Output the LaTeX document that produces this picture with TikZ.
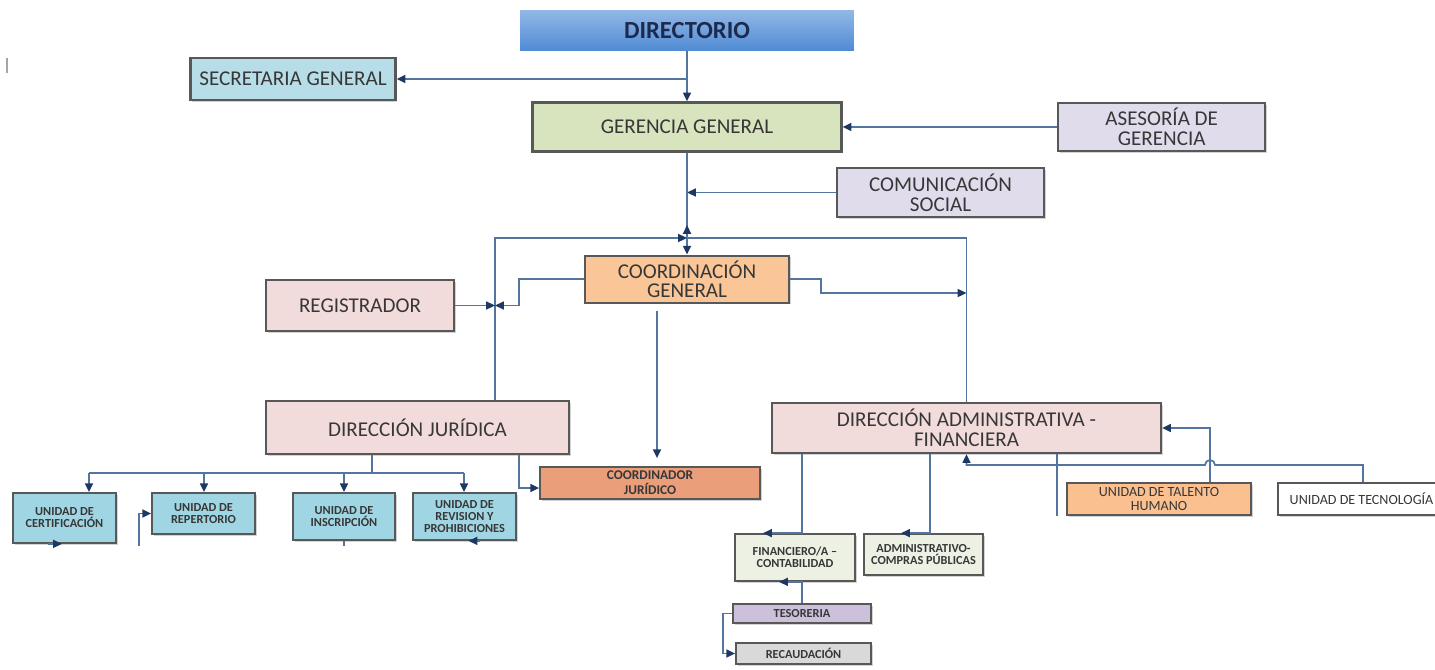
\documentclass[tikz,border=0pt]{standalone}
\usepackage{fontspec}
\setmainfont{Carlito}
\usepackage{tikz}
\usetikzlibrary{arrows.meta, positioning, shadows}

\definecolor{dirtop}{RGB}{146,184,230}
\definecolor{dirbot}{RGB}{80,138,212}
\definecolor{dirtext}{RGB}{28,42,78}
\definecolor{secblue}{RGB}{183,221,232}
\definecolor{gergreen}{RGB}{215,228,189}
\definecolor{lavender}{RGB}{224,220,236}
\definecolor{peach}{RGB}{250,198,152}
\definecolor{pinkbox}{RGB}{242,220,219}
\definecolor{salmon}{RGB}{234,158,122}
\definecolor{unitcyan}{RGB}{160,214,227}
\definecolor{palegreen}{RGB}{236,241,228}
\definecolor{lilac}{RGB}{204,192,218}
\definecolor{lightgray}{RGB}{217,217,217}
\definecolor{talorange}{RGB}{250,192,144}
\definecolor{boxgray}{RGB}{88,88,88}
\definecolor{txtgray}{RGB}{55,55,55}
\definecolor{linkblue}{RGB}{84,117,160}
\definecolor{tipblue}{RGB}{30,56,100}

\tikzset{
    block/.style={rectangle, draw=boxgray, line width=1.3pt, align=center, inner sep=1pt, text=txtgray, font=\fontsize{12}{11.3}\selectfont, drop shadow={shadow xshift=1pt, shadow yshift=-1pt, opacity=0.35}},
    unit/.style={block, line width=1pt, font=\fontsize{7}{6.8}\selectfont\bfseries},
    link/.style={draw=linkblue, line width=1pt},
    arrow/.style={link, -{Triangle[length=5pt, width=4.5pt, color=tipblue]}}
}

\begin{document}
\begin{tikzpicture}[x=0.02cm, y=-0.02cm]
    \useasboundingbox (0,0) rectangle (1435,669);
    \clip (0,0) rectangle (1435,669);

    % Nodes
    \node (directorio) [minimum width=6.68cm, minimum height=0.82cm, top color=dirtop, bottom color=dirbot, text=dirtext, font=\fontsize{14}{14}\selectfont\bfseries] at (687,30.5) {DIRECTORIO};
    \node (gerencia) [block, below=1.0cm of directorio, minimum width=6.18cm, minimum height=0.98cm, fill=gergreen] {GERENCIA GENERAL};
    \node (asesoria) [block, right=4.29cm of gerencia, minimum width=4.14cm, minimum height=0.96cm, fill=lavender] {ASESORÍA DE\\GERENCIA};
    \node (secretaria) [block, minimum width=4.1cm, minimum height=0.84cm, fill=secblue] at (293,79) {SECRETARIA GENERAL};
    \node (comunicacion) [block, minimum width=4.14cm, minimum height=0.98cm, fill=lavender] at (940.5,192.5) {COMUNICACIÓN\\SOCIAL};
    \node (coordinacion) [block, below=2.04cm of gerencia, minimum width=4.08cm, minimum height=0.94cm, fill=peach] {COORDINACIÓN\\GENERAL};
    \node (registrador) [block, minimum width=3.76cm, minimum height=1.02cm, fill=pinkbox] at (360,305.5) {REGISTRADOR};
    \node (juridica) [block, minimum width=6.06cm, minimum height=1.06cm, fill=pinkbox] at (417.5,427.5) {DIRECCIÓN JURÍDICA};
    \node (administrativa) [block, minimum width=7.78cm, minimum height=1.0cm, fill=pinkbox] at (966.5,428) {DIRECCIÓN ADMINISTRATIVA -\\FINANCIERA};
    \node (coordinador) [unit, minimum width=4.4cm, minimum height=0.64cm, fill=salmon, font=\fontsize{7.6}{8.5}\selectfont\bfseries] at (650,483) {COORDINADOR\\JURÍDICO};

    \node (certificacion) [unit, minimum width=2.06cm, minimum height=1.0cm, fill=unitcyan] at (64.5,518) {UNIDAD DE\\CERTIFICACIÓN};
    \node (repertorio) [unit, minimum width=2.06cm, minimum height=0.82cm, fill=unitcyan] at (203.5,513.5) {UNIDAD DE\\REPERTORIO};
    \node (inscripcion) [unit, minimum width=2.04cm, minimum height=0.94cm, fill=unitcyan] at (344,516.5) {UNIDAD DE\\INSCRIPCIÓN};
    \node (revision) [unit, minimum width=2.06cm, minimum height=0.94cm, fill=unitcyan] at (464.5,516.5) {UNIDAD DE\\REVISION Y\\PROHIBICIONES};

    \node (financiero) [unit, minimum width=2.4cm, minimum height=0.94cm, fill=palegreen] at (795,557.5) {FINANCIERO/A –\\CONTABILIDAD};
    \node (compras) [unit, minimum width=2.38cm, minimum height=0.82cm, fill=palegreen] at (923.5,554.5) {ADMINISTRATIVO-\\COMPRAS PÚBLICAS};
    \node (tesoreria) [unit, minimum width=2.76cm, minimum height=0.38cm, fill=lilac] at (802,613.5) {TESORERIA};
    \node (recaudacion) [unit, minimum width=2.7cm, minimum height=0.42cm, fill=lightgray] at (803.5,653.5) {RECAUDACIÓN};
    \node (talento) [unit, minimum width=3.68cm, minimum height=0.64cm, fill=talorange, font=\fontsize{8}{8}\selectfont] at (1159,499) {UNIDAD DE TALENTO\\HUMANO};
    \node (tecnologia) [unit, minimum width=3.34cm, minimum height=0.64cm, fill=white, font=\fontsize{8}{8}\selectfont] at (1361.5,499) {UNIDAD DE TECNOLOGÍA};

    % Joints
    \coordinate (hub) at (687,238);
    \coordinate (loopL) at (495,238);
    \coordinate (repin) at (139,546);
    \draw [gray!70, line width=0.6pt] (7,58) -- (7,73);

    % Arrows (upper part)
    \draw [arrow] (directorio) -- (gerencia);
    \draw [arrow] (directorio.south |- secretaria) -- (secretaria);
    \draw [arrow] (asesoria) -- (gerencia);
    \draw [arrow] (comunicacion) -- (comunicacion -| gerencia.south);
    \draw [link] (gerencia) -- (hub);
    \draw [arrow] (hub) -- ++(0,-13);
    \draw [arrow] (hub) -- (coordinacion);
    \draw [arrow] (juridica.north -| loopL) -- (loopL) -- (hub);
    \draw [link] (administrativa.north) |- (hub);
    \draw [arrow] (registrador) -- (registrador -| loopL);
    \draw [arrow] (coordinacion.west) -- ++(-65,0) |- (registrador -| loopL);
    \draw [arrow] (coordinacion.east) -- ++(31,0) |- (administrativa.north |- 0,293);
    \draw [arrow, shorten <=0.14cm, shorten >=0.16cm] ([xshift=-0.6cm]coordinacion.south) -- ([xshift=-0.6cm]coordinacion.south |- coordinador.north);

    % Arrows (Direccion Juridica)
    \draw [arrow] ([xshift=2.03cm]juridica.south) |- ([yshift=-0.1cm]coordinador.west);
    \draw [link] ([xshift=-0.91cm]juridica.south) -- (372,473);
    \draw [link] (89,473) -- (464,473);
    \foreach \u/\x in {certificacion/89, repertorio/204, inscripcion/344, revision/464}
        \draw [arrow] (\x,473) -- (\u.north -| \x,0);
    \draw [arrow] ([xshift=-0.34cm]certificacion.south) -- ([xshift=-0.05cm]certificacion.south);
    \draw [arrow] (repin) |- (repertorio.west);
    \draw [link] (inscripcion.south) -- ++(0,5);
    \draw [arrow] ([xshift=0.3cm]revision.south) -- ([xshift=0.08cm]revision.south);

    % Arrows (Direccion Administrativa)
    \draw [arrow] (802,0 |- administrativa.south) |- ([xshift=-0.64cm]financiero.north);
    \draw [arrow] (930,0 |- administrativa.south) |- ([xshift=-0.45cm]compras.north);
    \draw [arrow] (802,0 |- tesoreria.north) |- ([xshift=-0.32cm]financiero.south);
    \draw [arrow] (tesoreria.west) -- ++(-9,0) |- (recaudacion.west);
    \draw [link] (1057,0 |- administrativa.south) -- (1057,0 |- talento.south);
    \draw [arrow] (1210,0 |- talento.north) |- (administrativa.east);
    \draw [arrow] (1363,0 |- tecnologia.north) |- (1215,465) arc [start angle=0, end angle=180, radius=0.1cm] -- (administrativa.south |- 0,465) -- (administrativa.south);

\end{tikzpicture}
\end{document}
